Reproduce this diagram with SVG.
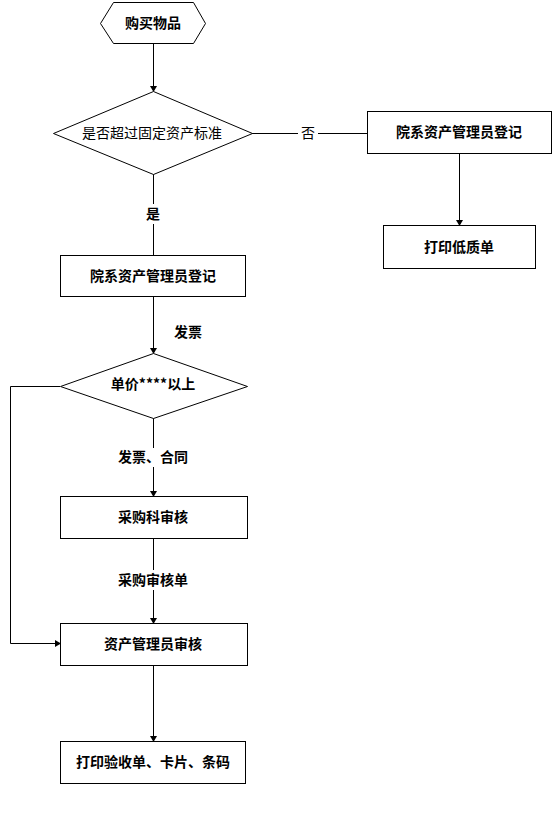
<svg xmlns="http://www.w3.org/2000/svg" width="554" height="814" viewBox="0 0 554 814">
<style>
.s{fill:#fff;stroke:#000;stroke-width:1}
.t{font-family:"Noto Sans CJK SC","Liberation Sans",sans-serif;font-size:14px;text-anchor:middle;fill:#000}
.b{font-weight:bold}
.c{fill:none;stroke:#000;stroke-width:1}
</style>
<defs>
<marker id="a" markerWidth="6" markerHeight="7" refX="5" refY="3.5" orient="auto" markerUnits="userSpaceOnUse">
<path d="M0,0 L6,3.5 L0,7 Z" fill="#000"/>
</marker>
</defs>
<rect width="554" height="814" fill="#fff"/>
<g id="connectors">
<path class="c" d="M153.5,43 V91" marker-end="url(#a)"/>
<path class="c" d="M252,133.5 H298 M318,133.5 H367"/>
<path class="c" d="M459.5,153 V225" marker-end="url(#a)"/>
<path class="c" d="M153.5,174 V204 M153.5,224 V255"/>
<path class="c" d="M153.5,296 V353" marker-end="url(#a)"/>
<path class="c" d="M60,386.5 H10.5 V643.5 H60" marker-end="url(#a)"/>
<path class="c" d="M153.5,418 V448 M153.5,467 V496" marker-end="url(#a)"/>
<path class="c" d="M153.5,538 V570 M153.5,590 V623" marker-end="url(#a)"/>
<path class="c" d="M153.5,665 V741" marker-end="url(#a)"/>
</g>
<g id="labels">
<text class="t" x="308" y="138">否</text>
<text class="t b" x="153" y="219">是</text>
<text class="t b" x="188" y="337">发票</text>
<text class="t b" x="153" y="462">发票、合同</text>
<text class="t b" x="153" y="585">采购审核单</text>
</g>
<g id="start">
<polygon class="s" points="100.5,23.5 113.5,2.5 193.5,2.5 205.5,23.5 193.5,43.5 113.5,43.5"/>
<text class="t b" x="153" y="28">购买物品</text>
</g>
<g id="decision1">
<polygon class="s" points="153.5,91.5 252.5,133.5 153.5,174.5 53.5,133.5"/>
<text class="t" x="152" y="138">是否超过固定资产标准</text>
</g>
<g id="register-right">
<rect class="s" x="367.5" y="111.5" width="184" height="42"/>
<text class="t b" x="459" y="137">院系资产管理员登记</text>
</g>
<g id="print-low">
<rect class="s" x="383.5" y="225.5" width="152" height="43"/>
<text class="t b" x="459" y="252">打印低质单</text>
</g>
<g id="register-left">
<rect class="s" x="60.5" y="255.5" width="185" height="41"/>
<text class="t b" x="153" y="281">院系资产管理员登记</text>
</g>
<g id="decision2">
<polygon class="s" points="153.5,353.5 247.5,386.5 153.5,418.5 60.5,386.5"/>
<text class="t b" x="153" y="389">单价****以上</text>
</g>
<g id="purchase-review">
<rect class="s" x="60.5" y="496.5" width="187" height="42"/>
<text class="t b" x="153" y="522">采购科审核</text>
</g>
<g id="asset-review">
<rect class="s" x="60.5" y="623.5" width="187" height="42"/>
<text class="t b" x="153" y="649">资产管理员审核</text>
</g>
<g id="print-receipt">
<rect class="s" x="60.5" y="741.5" width="185" height="42"/>
<text class="t b" x="153" y="767">打印验收单、卡片、条码</text>
</g>
</svg>
